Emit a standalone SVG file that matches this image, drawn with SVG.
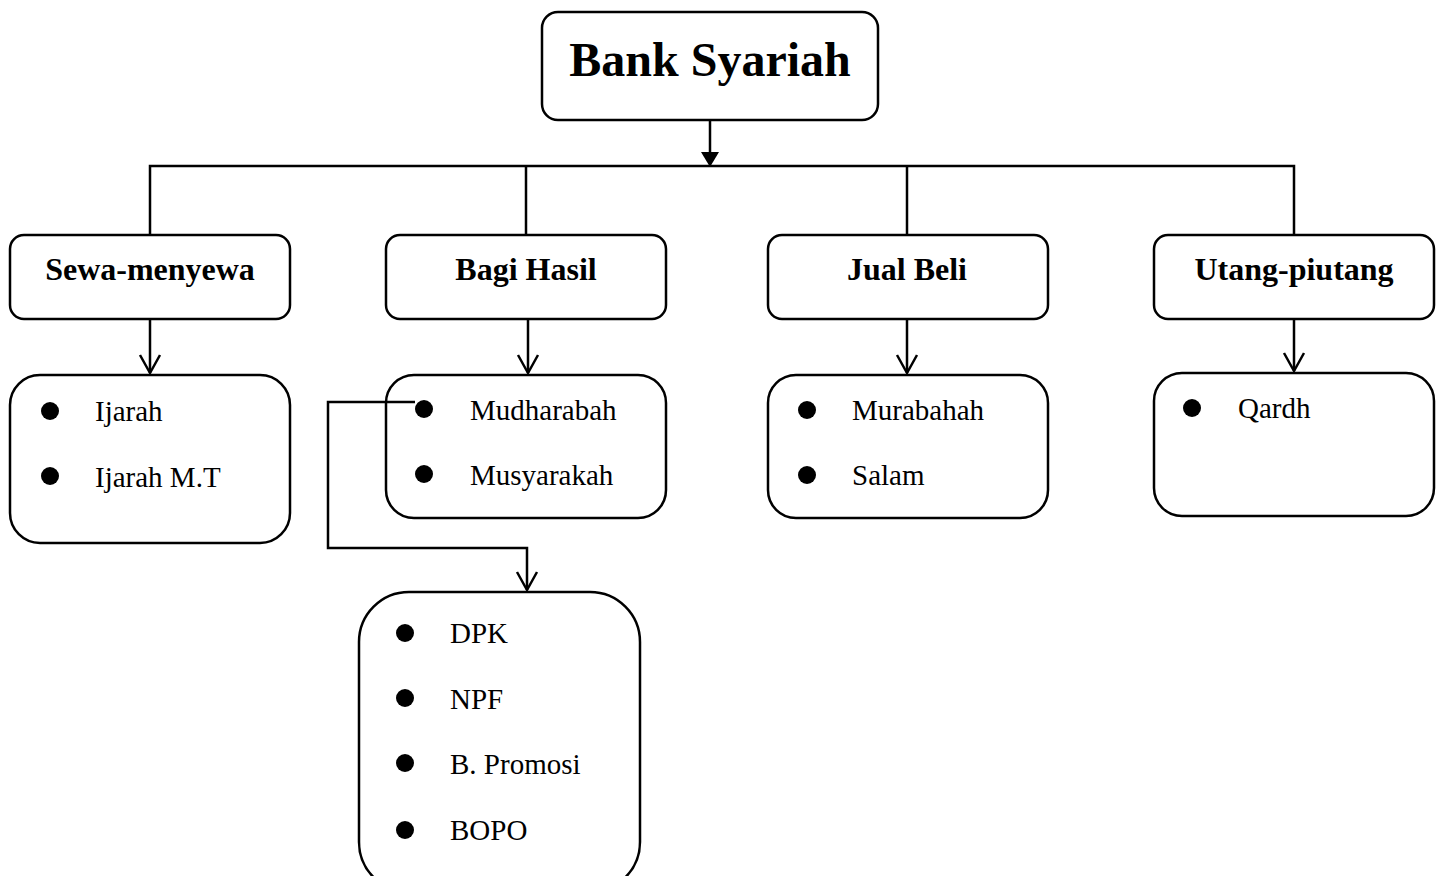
<svg xmlns="http://www.w3.org/2000/svg" width="1440" height="876" viewBox="0 0 1440 876">
<defs>
<style>
.box{fill:#fff;stroke:#000;stroke-width:2.5}
.ln{fill:none;stroke:#000;stroke-width:2.5}
.oa{fill:none;stroke:#000;stroke-width:2.5;stroke-linejoin:miter}
.t1{font-family:"Liberation Serif","Times New Roman",serif;font-weight:bold;font-size:48px;text-anchor:middle}
.t2{font-family:"Liberation Serif","Times New Roman",serif;font-weight:bold;font-size:32px;text-anchor:middle}
.t3{font-family:"Liberation Serif","Times New Roman",serif;font-size:29px}
.b{fill:#000}
</style>
</defs>
<rect width="1440" height="876" fill="#fff"/>
<g id="connectors">
<line class="ln" x1="710" y1="120" x2="710" y2="154"/>
<polygon points="701,152 719,152 710,167" fill="#000"/>
<polyline class="ln" points="150,234 150,166 1294,166 1294,234"/>
<line class="ln" x1="526" y1="166" x2="526" y2="234"/>
<line class="ln" x1="907" y1="166" x2="907" y2="234"/>
<line class="ln" x1="150" y1="319" x2="150" y2="373"/>
<polyline class="oa" points="140,355 150,373 160,355"/>
<line class="ln" x1="528" y1="319" x2="528" y2="373"/>
<polyline class="oa" points="518,355 528,373 538,355"/>
<line class="ln" x1="907" y1="319" x2="907" y2="373"/>
<polyline class="oa" points="897,355 907,373 917,355"/>
<line class="ln" x1="1294" y1="319" x2="1294" y2="371"/>
<polyline class="oa" points="1284,353 1294,371 1304,353"/>
</g>
<g id="n-bank">
<rect class="box" x="542" y="12" width="336" height="108" rx="16"/>
<text class="t1" x="710" y="76">Bank Syariah</text>
</g>
<g id="n-sewa">
<rect class="box" x="10" y="235" width="280" height="84" rx="14"/>
<text class="t2" x="150" y="280">Sewa-menyewa</text>
</g>
<g id="n-bagi">
<rect class="box" x="386" y="235" width="280" height="84" rx="14"/>
<text class="t2" x="526" y="280">Bagi Hasil</text>
</g>
<g id="n-jual">
<rect class="box" x="768" y="235" width="280" height="84" rx="14"/>
<text class="t2" x="907" y="280">Jual Beli</text>
</g>
<g id="n-utang">
<rect class="box" x="1154" y="235" width="280" height="84" rx="14"/>
<text class="t2" x="1294" y="280">Utang-piutang</text>
</g>
<g id="n-sewa-list">
<rect class="box" x="10" y="375" width="280" height="168" rx="30"/>
<circle class="b" cx="50" cy="411" r="9"/>
<text class="t3" x="95" y="421">Ijarah</text>
<circle class="b" cx="50" cy="476" r="9"/>
<text class="t3" x="95" y="487">Ijarah M.T</text>
</g>
<g id="n-bagi-list">
<rect class="box" x="386" y="375" width="280" height="143" rx="28"/>
<circle class="b" cx="424" cy="409" r="9"/>
<text class="t3" x="470" y="420">Mudharabah</text>
<circle class="b" cx="424" cy="474" r="9"/>
<text class="t3" x="470" y="485">Musyarakah</text>
</g>
<g id="n-jual-list">
<rect class="box" x="768" y="375" width="280" height="143" rx="28"/>
<circle class="b" cx="807" cy="410" r="9"/>
<text class="t3" x="852" y="420">Murabahah</text>
<circle class="b" cx="807" cy="475" r="9"/>
<text class="t3" x="852" y="485">Salam</text>
</g>
<g id="n-utang-list">
<rect class="box" x="1154" y="373" width="280" height="143" rx="28"/>
<circle class="b" cx="1192" cy="408" r="9"/>
<text class="t3" x="1238" y="418">Qardh</text>
</g>
<g id="connectors-2">
<polyline class="ln" points="415,402 328,402 328,548 527,548 527,590"/>
<polyline class="oa" points="517,572 527,590 537,572"/>
</g>
<g id="n-variables">
<rect class="box" x="359" y="592" width="281" height="300" rx="50"/>
<circle class="b" cx="405" cy="633" r="9"/>
<text class="t3" x="450" y="643">DPK</text>
<circle class="b" cx="405" cy="698" r="9"/>
<text class="t3" x="450" y="709">NPF</text>
<circle class="b" cx="405" cy="763" r="9"/>
<text class="t3" x="450" y="774">B. Promosi</text>
<circle class="b" cx="405" cy="830" r="9"/>
<text class="t3" x="450" y="840">BOPO</text>
</g>
</svg>
